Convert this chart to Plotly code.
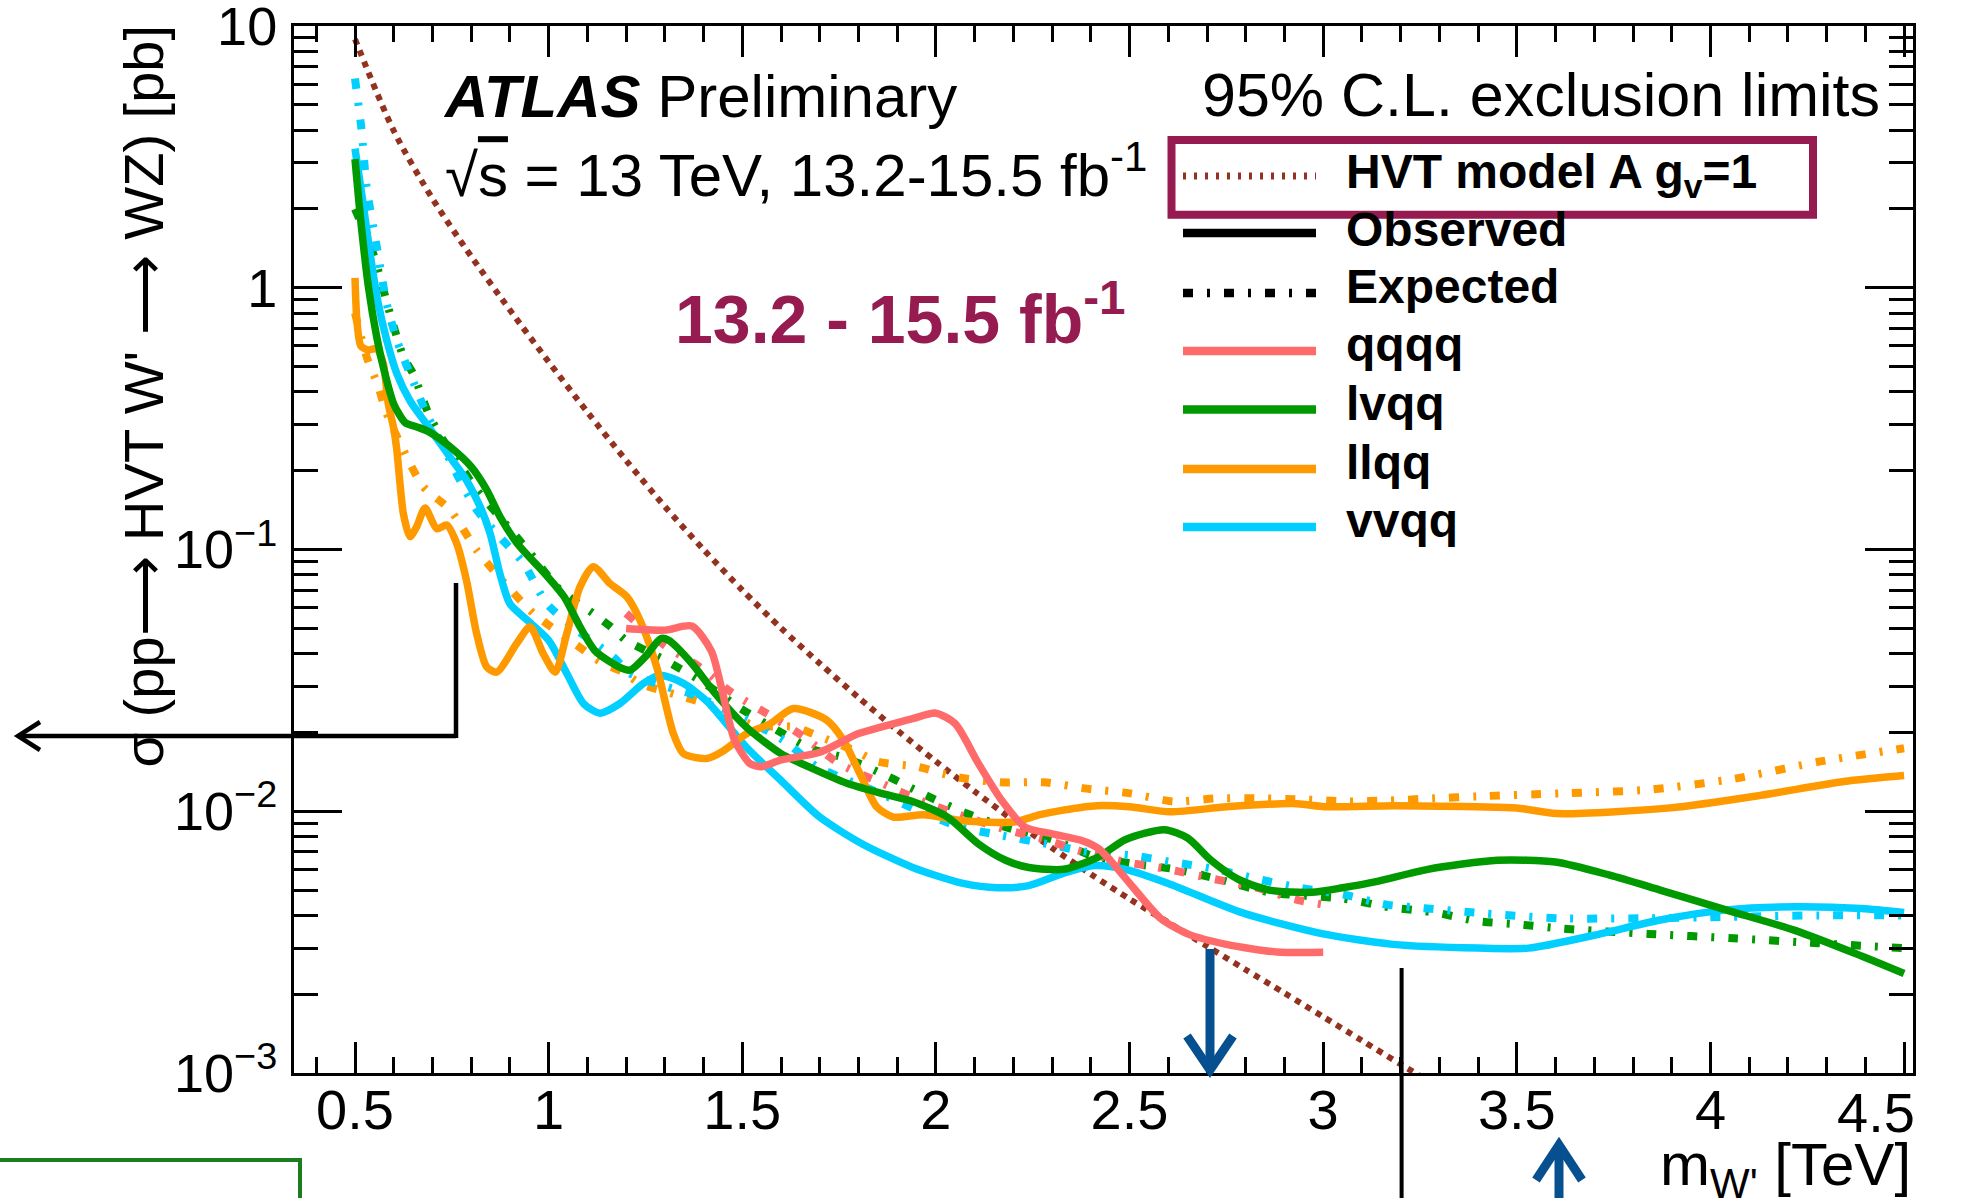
import plotly.graph_objects as go

# ---------------- data ----------------
hvt_x = [0.5, 0.6, 0.7, 0.8, 0.9, 1.0, 1.1, 1.2, 1.3, 1.4, 1.5, 1.6, 1.7, 1.8, 1.9, 2.0,
         2.1, 2.2, 2.3, 2.4, 2.5, 2.6, 2.7, 2.8, 2.9, 3.0, 3.1, 3.2, 3.3]
hvt_y = [8.91, 3.98, 2.19, 1.318, 0.822, 0.521, 0.335, 0.219, 0.146, 0.100, 0.070, 0.0501,
         0.0367, 0.0272, 0.0204, 0.0155, 0.0119, 0.00923, 0.00724, 0.00575, 0.00462,
         0.00376, 0.00305, 0.00248, 0.00202, 0.00164, 0.00133, 0.00108, 0.00088]

qqqq_obs_x = [1.2, 1.3, 1.37, 1.42, 1.45, 1.48, 1.52, 1.55, 1.6, 1.7, 1.8, 1.86, 1.94, 2.0,
              2.05, 2.11, 2.17, 2.23, 2.3, 2.38, 2.42, 2.45, 2.51, 2.58, 2.65, 2.75, 2.88, 3.0]
qqqq_obs_y = [0.0499, 0.0492, 0.051, 0.041, 0.028, 0.0187, 0.0152, 0.0148, 0.0157, 0.0168,
              0.0198, 0.021, 0.0226, 0.0237, 0.0216, 0.0152, 0.011, 0.0087, 0.0082, 0.0077,
              0.0072, 0.0065, 0.0051, 0.0039, 0.0034, 0.0031, 0.0029, 0.00289]
qqqq_exp_x = [1.2, 1.3, 1.39, 1.47, 1.57, 1.66, 1.75, 1.86, 1.96, 2.06, 2.17, 2.28, 2.38,
              2.49, 2.6, 2.72, 2.83, 2.93, 3.0]
qqqq_exp_y = [0.057, 0.043, 0.0356, 0.0286, 0.0233, 0.0192, 0.0152, 0.0128, 0.011, 0.0097,
              0.0086, 0.0078, 0.0070, 0.0064, 0.0060, 0.0055, 0.0051, 0.0046, 0.0044]

lvqq_obs_x = [0.5, 0.515, 0.535, 0.556, 0.575, 0.6, 0.63, 0.66, 0.69, 0.745, 0.8, 0.84, 0.875,
              0.92, 0.99, 1.04, 1.08, 1.12, 1.18, 1.21, 1.25, 1.29, 1.31, 1.37, 1.43, 1.51,
              1.6, 1.68, 1.77, 1.86, 1.94, 2.03, 2.11, 2.18, 2.24, 2.33, 2.42, 2.49, 2.59,
              2.65, 2.71, 2.78, 2.86, 2.97, 3.05, 3.14, 3.27, 3.45, 3.6, 3.74, 3.87, 4.04,
              4.22, 4.39, 4.5]
lvqq_obs_y = [3.1, 1.8, 1.0, 0.65, 0.485, 0.36, 0.305, 0.294, 0.282, 0.247, 0.207, 0.169,
              0.133, 0.105, 0.081, 0.066, 0.051, 0.041, 0.0357, 0.0346, 0.039, 0.0457, 0.045,
              0.0367, 0.0282, 0.021, 0.0166, 0.0146, 0.0128, 0.0117, 0.0109, 0.0095, 0.0075,
              0.0065, 0.0061, 0.006, 0.0067, 0.0078, 0.0085, 0.0079, 0.0065, 0.0055, 0.005,
              0.0049, 0.0051, 0.0054, 0.006, 0.0065, 0.0064, 0.0057, 0.005, 0.0042, 0.0035,
              0.0028, 0.0024]
lvqq_exp_x = [0.5, 0.547, 0.59, 0.625, 0.65, 0.69, 0.72, 0.78, 0.814, 0.874, 0.952, 1.03,
              1.115, 1.16, 1.2, 1.3, 1.4, 1.49, 1.59, 1.675, 1.77, 1.88, 1.98, 2.08, 2.18,
              2.3, 2.41, 2.51, 2.62, 2.73, 2.86, 3.05, 3.17, 3.29, 3.4, 3.5, 3.62, 3.84,
              4.06, 4.28, 4.5]
lvqq_exp_y = [2.0, 1.35, 0.8, 0.545, 0.47, 0.33, 0.273, 0.201, 0.169, 0.133, 0.097, 0.070,
              0.057, 0.0507, 0.045, 0.0378, 0.031, 0.025, 0.0204, 0.0174, 0.0159, 0.0135,
              0.0114, 0.0098, 0.0087, 0.0078, 0.0067, 0.0063, 0.006, 0.0055, 0.0049, 0.00464,
              0.0043, 0.0041, 0.0038, 0.0037, 0.00356, 0.0034, 0.00327, 0.00313, 0.003]

llqq_obs_x = [0.5, 0.505, 0.515, 0.534, 0.556, 0.573, 0.586, 0.6, 0.608, 0.625, 0.642, 0.659,
              0.681, 0.711, 0.737, 0.763, 0.788, 0.814, 0.84, 0.866, 0.918, 0.952, 0.986,
              1.017, 1.047, 1.081, 1.115, 1.159, 1.202, 1.236, 1.279, 1.322, 1.348, 1.408,
              1.451, 1.512, 1.572, 1.632, 1.718, 1.761, 1.804, 1.847, 1.89, 1.968, 2.071,
              2.2, 2.269, 2.329, 2.415, 2.5, 2.605, 2.751, 2.923, 3.009, 3.181, 3.397, 3.5,
              3.603, 3.896, 4.129, 4.344, 4.5]
llqq_obs_y = [1.09, 0.75, 0.6, 0.578, 0.586, 0.514, 0.36, 0.29, 0.24, 0.137, 0.112, 0.122,
              0.144, 0.12, 0.124, 0.105, 0.076, 0.0478, 0.0356, 0.034, 0.0438, 0.0507, 0.040,
              0.034, 0.0478, 0.072, 0.086, 0.074, 0.066, 0.0537, 0.0356, 0.0198, 0.0166,
              0.0159, 0.0170, 0.0198, 0.0216, 0.0247, 0.0223, 0.0187, 0.0139, 0.0104, 0.0095,
              0.0097, 0.0092, 0.0091, 0.0097, 0.0101, 0.0105, 0.0104, 0.00995, 0.0104, 0.0107,
              0.0104, 0.0105, 0.0104, 0.0103, 0.0098, 0.0103, 0.0115, 0.013, 0.0137]
llqq_exp_x = [0.5, 0.53, 0.56, 0.582, 0.625, 0.676, 0.745, 0.814, 0.883, 0.961, 1.055, 1.141,
              1.193, 1.236, 1.339, 1.434, 1.529, 1.632, 1.692, 1.796, 1.847, 1.951, 2.054,
              2.166, 2.278, 2.39, 2.502, 2.613, 2.725, 2.837, 2.949, 3.061, 3.173, 3.285,
              3.397, 3.612, 3.844, 4.06, 4.284, 4.5]
llqq_exp_y = [0.8, 0.545, 0.42, 0.33, 0.24, 0.174, 0.142, 0.0995, 0.0753, 0.057, 0.045,
              0.0367, 0.034, 0.0308, 0.0276, 0.025, 0.0213, 0.021, 0.0195, 0.0169, 0.0155,
              0.0148, 0.0135, 0.0129, 0.0129, 0.0122, 0.0117, 0.0109, 0.0112, 0.0112, 0.0111,
              0.0109, 0.011, 0.0112, 0.0114, 0.0117, 0.0121, 0.0133, 0.0155, 0.0174]

vvqq_obs_x = [0.5, 0.517, 0.539, 0.56, 0.582, 0.608, 0.642, 0.69, 0.745, 0.788, 0.823, 0.849,
              0.874, 0.9, 0.943, 1.0, 1.047, 1.09, 1.133, 1.184, 1.245, 1.288, 1.348, 1.41,
              1.51, 1.6, 1.7, 1.81, 1.94, 2.07, 2.16, 2.24, 2.33, 2.41, 2.49, 2.6, 2.79, 3.0,
              3.18, 3.4, 3.53, 3.7, 3.87, 4.04, 4.22, 4.39, 4.5]
vvqq_obs_y = [3.4, 2.3, 1.35, 0.87, 0.63, 0.47, 0.37, 0.294, 0.226, 0.184, 0.146, 0.115,
              0.081, 0.062, 0.054, 0.045, 0.0336, 0.0258, 0.0237, 0.0258, 0.0308, 0.0331,
              0.0308, 0.0262, 0.0176, 0.0131, 0.0095, 0.0075, 0.0061, 0.0053, 0.0051, 0.0052,
              0.0058, 0.0062, 0.006, 0.0053, 0.0041, 0.0034, 0.0031, 0.003, 0.003, 0.00336,
              0.00384, 0.0042, 0.00432, 0.00425, 0.0041]
vvqq_exp_x = [0.5, 0.517, 0.53, 0.556, 0.582, 0.608, 0.642, 0.685, 0.728, 0.771, 0.814,
              0.866, 0.935, 0.995, 1.073, 1.167, 1.21, 1.305, 1.365, 1.512, 1.606, 1.692,
              1.753, 1.856, 1.951, 2.063, 2.166, 2.286, 2.39, 2.5, 2.61, 2.725, 2.833, 2.941,
              3.053, 3.164, 3.27, 3.39, 3.61, 3.83, 4.04, 4.28, 4.5]
vvqq_exp_y = [6.3, 4.0, 2.43, 1.44, 0.87, 0.63, 0.47, 0.33, 0.247, 0.184, 0.142, 0.115,
              0.0886, 0.0622, 0.0492, 0.0389, 0.0336, 0.0299, 0.0282, 0.0223, 0.0187, 0.0148,
              0.0135, 0.0117, 0.0101, 0.0087, 0.0081, 0.0075, 0.007, 0.0068, 0.0064, 0.006,
              0.0055, 0.0051, 0.0048, 0.0044, 0.00425, 0.0041, 0.0039, 0.0039, 0.00395,
              0.004, 0.004]

x_tick_vals = [0.5, 1, 1.5, 2, 2.5, 3, 3.5, 4, 4.5]
x_tick_text = ["0.5", "1", "1.5", "2", "2.5", "3", "3.5", "4", ""]
x_last_label = "4.5"
y_tick_vals = [0.001, 0.01, 0.1, 1, 10]
y_tick_text = ["10<sup>\u22123</sup>", "10<sup>\u22122</sup>", "10<sup>\u22121</sup>", "1", "10"]

legend_labels = ["HVT model A g<sub>v</sub>=1", "Observed", "Expected", "qqqq", "lvqq", "llqq", "vvqq"]

# ---------------- styles ----------------
C_QQQQ = "#ff6b6b"
C_LVQQ = "#009900"
C_LLQQ = "#ff9900"
C_VVQQ = "#00cfff"
C_HVT = "#93321f"
C_MAROON = "#951b51"
C_BLUE = "#06508f"
C_GREEN = "#1b7d1b"
FONT = "Liberation Sans, Arial, Helvetica, sans-serif"
EXP_DASH = "10px,14px,3px,14px"
W_LINE = 7.5

W, H = 1972, 1198
L, R, T, B = 294, 1913, 26, 1073
PW, PH = R - L, B - T


def px(X):
    return (X - L) / PW


def py(Y):
    return (B - Y) / PH


fig = go.Figure()

fig.add_trace(go.Scatter(x=hvt_x, y=hvt_y, mode="lines",
                         line=dict(color=C_HVT, width=6, dash="6px,6px", shape="spline", smoothing=0.8)))
for xs, ys, c in [(llqq_exp_x, llqq_exp_y, C_LLQQ), (lvqq_exp_x, lvqq_exp_y, C_LVQQ),
                  (vvqq_exp_x, vvqq_exp_y, C_VVQQ), (qqqq_exp_x, qqqq_exp_y, C_QQQQ)]:
    fig.add_trace(go.Scatter(x=xs, y=ys, mode="lines",
                             line=dict(color=c, width=8, dash=EXP_DASH, shape="spline", smoothing=0.7)))
for xs, ys, c in [(vvqq_obs_x, vvqq_obs_y, C_VVQQ), (llqq_obs_x, llqq_obs_y, C_LLQQ),
                  (lvqq_obs_x, lvqq_obs_y, C_LVQQ), (qqqq_obs_x, qqqq_obs_y, C_QQQQ)]:
    fig.add_trace(go.Scatter(x=xs, y=ys, mode="lines",
                             line=dict(color=c, width=W_LINE, shape="spline", smoothing=0.7)))

minor_x = [round(0.4 + 0.1 * i, 1) for i in range(42) if round((0.4 + 0.1 * i) * 10) % 5 != 0]
minor_x = [v for v in minor_x if v <= 4.52]
minor_y = [m * 10 ** e for e in range(-3, 1) for m in range(2, 10)]

fig.update_layout(
    width=W, height=H, autosize=False,
    margin=dict(l=L, r=W - R, t=T, b=H - B, pad=0, autoexpand=False),
    paper_bgcolor="white", plot_bgcolor="white",
    showlegend=False,
    font=dict(family=FONT, color="black"),
    xaxis=dict(range=[0.3425, 4.523], showgrid=False, zeroline=False, automargin=False,
               showline=True, linewidth=3, linecolor="black", mirror="allticks",
               ticks="inside", ticklen=31, tickwidth=2.5, tickcolor="black",
               tickmode="array", tickvals=x_tick_vals, ticktext=x_tick_text,
               tickfont=dict(size=56, family=FONT, color="black"), ticklabelstandoff=-14,
               ticklabeloverflow="allow",
               minor=dict(tickmode="array", tickvals=minor_x, ticks="inside", ticklen=16,
                          tickwidth=2.5, tickcolor="black", showgrid=False)),
    yaxis=dict(type="log", range=[-3, 1], showgrid=False, zeroline=False, automargin=False,
               showline=True, linewidth=3, linecolor="black", mirror="allticks",
               ticks="inside", ticklen=48, tickwidth=2.5, tickcolor="black",
               tickmode="array", tickvals=y_tick_vals, ticktext=y_tick_text,
               tickfont=dict(size=54, family=FONT, color="black"), ticklabelstandoff=3,
               ticklabeloverflow="allow",
               minor=dict(tickmode="array", tickvals=minor_y, ticks="inside", ticklen=24,
                          tickwidth=2.5, tickcolor="black", showgrid=False)),
)

shapes = []


def pline(x0, y0, x1, y1, color="black", width=4, dash="solid"):
    shapes.append(dict(type="line", xref="paper", yref="paper", x0=px(x0), y0=py(y0),
                       x1=px(x1), y1=py(y1), line=dict(color=color, width=width, dash=dash),
                       layer="above"))


def ppath(points, color, width):
    d = "M " + " L ".join(f"{px(a):.5f},{py(b):.5f}" for a, b in points)
    shapes.append(dict(type="path", xref="paper", yref="paper", path=d,
                       line=dict(color=color, width=width), layer="above"))


# left arrow construction
pline(18, 736, 456, 736, width=4.5)
pline(456, 583, 456, 738, width=4.5)
ppath([(40, 722), (18, 736), (40, 750)], "black", 4.5)
# vertical black line near 3.2 TeV
pline(1401.6, 968, 1401.6, 1205, width=4)
# blue arrows
pline(1210, 949, 1210, 1066, color=C_BLUE, width=9)
ppath([(1187, 1036), (1210, 1070), (1233, 1036)], C_BLUE, 9)
pline(1559, 1148, 1559, 1205, color=C_BLUE, width=9)
ppath([(1536, 1180), (1559, 1145), (1582, 1180)], C_BLUE, 9)
# green box (partially visible)
ppath([(-5, 1160), (300, 1160), (300, 1205)], C_GREEN, 4)

# legend samples
leg_y = [176, 233, 293, 351, 409.5, 469, 527]
leg_styles = [(C_HVT, "3px,8px", 7), ("black", "solid", 8.5), ("black", EXP_DASH, 8.5),
              (C_QQQQ, "solid", 8.5), (C_LVQQ, "solid", 8.5), (C_LLQQ, "solid", 8.5),
              (C_VVQQ, "solid", 8.5)]
for yy, (c, d, w) in zip(leg_y, leg_styles):
    pline(1183, yy, 1316, yy, color=c, width=w, dash=d)
# legend highlight box
shapes.append(dict(type="rect", xref="paper", yref="paper", x0=px(1171.5), x1=px(1813),
                   y0=py(214.7), y1=py(140), line=dict(color=C_MAROON, width=8), layer="above"))

fig.update_layout(shapes=shapes)

ann = []


def text(s, X, Y, size, xanchor="left", yanchor="bottom", color="black", angle=0):
    ann.append(dict(text=s, xref="paper", yref="paper", x=px(X), y=py(Y), xanchor=xanchor,
                    yanchor=yanchor, showarrow=False, borderpad=0, textangle=angle,
                    font=dict(size=size, family=FONT, color=color)))


text("<b><i>ATLAS</i></b> Preliminary", 442, 131, 60)
text("\u221a<span style='text-decoration:overline'>s</span> = 13 TeV, 13.2-15.5 fb<sup>-1</sup>",
     444, 210, 60)
text("95% C.L. exclusion limits", 1881, 130, 61, xanchor="right")
text("<b>13.2 - 15.5 fb<sup>-1</sup></b>", 674, 358, 68, color=C_MAROON)

leg_base = [187.5, 247, 304, 362, 421, 480, 538]
for i, (lab, bl) in enumerate(zip(legend_labels, leg_base)):
    if i == 0:
        text("<b>" + lab + "</b>", 1345, bl - 0.905 * 48, 48, yanchor="top")
    else:
        text("<b>" + lab + "</b>", 1345, bl + 0.212 * 48, 48)

# last x tick label kept inside the canvas, as in the reference
text(x_last_label, 1876, 1112, 56, xanchor="center", yanchor="middle")

# axis titles
text("m<sub>W'</sub> [TeV]", 1912, 1184 - 0.905 * 60, 60, xanchor="right", yanchor="top")
text("\u03c3 (pp\u27f6 HVT W' \u27f6 WZ) [pb]", 143, 24, 56, xanchor="center", yanchor="top", angle=-90)

fig.update_layout(annotations=ann)

fig.write_html("out.html")
